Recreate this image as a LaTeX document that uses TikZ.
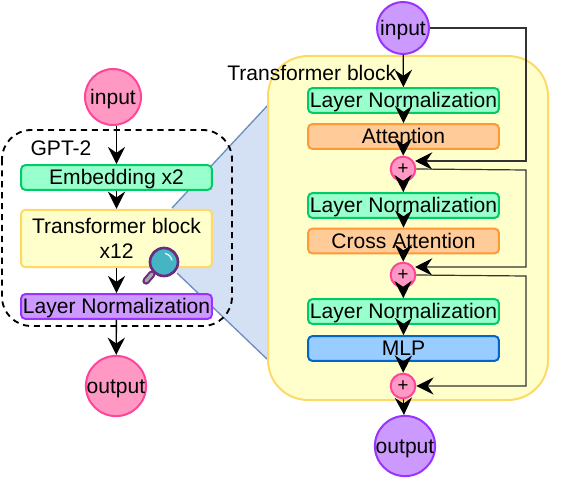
\documentclass[tikz,border=0pt]{standalone}
\usepackage{fontspec}
\setmainfont{Liberation Sans}
\usetikzlibrary{arrows.meta}
\definecolor{pinkF}{HTML}{FF99C4}\definecolor{pinkD}{HTML}{FF4499}
\definecolor{purF}{HTML}{CC99FF}\definecolor{purD}{HTML}{9933FF}
\definecolor{grnF}{HTML}{99FFCC}\definecolor{grnD}{HTML}{00CC66}
\definecolor{yelF}{HTML}{FFFFCC}\definecolor{yelD}{HTML}{FFD966}
\definecolor{orgF}{HTML}{FFCC99}\definecolor{orgD}{HTML}{FF9933}
\definecolor{bluF}{HTML}{99CCFF}\definecolor{bluD}{HTML}{0066CC}
\definecolor{zoomF}{HTML}{D4E1F5}\definecolor{zoomD}{HTML}{6C8EBF}
\definecolor{magD}{HTML}{6B2C80}\definecolor{magF}{HTML}{45B5C4}
\tikzset{
  txt/.style={font=\fontsize{15.8pt}{19pt}\selectfont,inner sep=0pt,text=black},
  oneline/.style={text height=11pt,text depth=0pt},
  circ/.style={circle,txt,oneline,line width=1.5pt,minimum size=#1*0.75pt},
  pinkc/.style={circ=#1,draw=pinkD,fill=pinkF},
  purc/.style={circ=#1,draw=purD,fill=purF},
  bx/.style={txt,rectangle,rounded corners=3pt,line width=1.5pt,minimum width=143pt},
  plusn/.style={circle,draw=pinkD,fill=pinkF,line width=1.5pt,minimum size=18.5pt,inner sep=0pt,font=\fontsize{14pt}{14pt}\selectfont},
  arr/.style={-{Stealth[length=13pt,width=13pt,inset=4.5pt]},line width=1pt,black},
  skip/.style={-{Stealth[length=13pt,width=13pt,inset=4.5pt,color=black]},line width=0.9pt,draw=black!80}
}
\begin{document}
\begin{tikzpicture}[x=0.75pt,y=-0.75pt]
\useasboundingbox (0,0) rectangle (567,481);
% zoom wedge
\fill[zoomF] (172,208) -- (268,105) -- (268,360) -- (177,273) -- cycle;
\draw[zoomD,line width=1pt] (172,208) -- (268,105);
\draw[zoomD,line width=1pt] (177,273) -- (268,360);
% left
\draw[dash pattern=on 4.6pt off 3.6pt,line width=1.4pt,rounded corners=22pt,black] (2,130) rectangle (232,326);
\node[txt,oneline] (gpt) at (61,148) {GPT-2};
\node[pinkc=56] (in1) at (113,97) {input};
\node[bx,oneline,draw=grnD,fill=grnF,minimum height=18.5pt] (emb) at (116.5,177.5) {Embedding x2};
\node[bx,draw=yelD,fill=yelF,minimum height=43pt,align=center] (tb) at (116.5,238.5) {Transformer block\\x12};
\node[bx,oneline,draw=purD,fill=purF,minimum height=18.5pt] (ln) at (116.5,306.5) {Layer Normalization};
\node[pinkc=58] (out1) at (116,386) {output};
\draw[arr] (in1.south -| emb.north) -- (emb.north);
\draw[arr] (emb) -- (tb);
\draw[arr] (tb) -- (ln);
\draw[arr] (ln) -- (out1);
% magnifier
\draw[line cap=round,line width=5.5pt,draw=magD] (152,274) -- (146,281);
\draw[line cap=round,line width=2.4pt,draw=gray!70] (152,274) -- (146,281);
\node[circle,draw=magD,fill=magF,line width=2pt,minimum size=21pt,inner sep=0pt] (mag) at (164,262) {};
\draw[white!85!cyan,line width=1.1pt,line cap=round] (165.5,253.5) arc (-80:-10:8);
% right
\node[rectangle,draw=yelD,fill=yelF,line width=1.5pt,rounded corners=30pt,minimum width=210pt,minimum height=258pt,inner sep=0pt] (big) at (408,228) {};
\node[txt,oneline,anchor=west] (tblabel) at (227,73) {Transformer block};
\node[purc=52] (in2) at (403,28) {input};
\node[bx,oneline,draw=grnD,fill=grnF,minimum height=18.5pt] (l1) at (403.5,100.5) {Layer Normalization};
\node[bx,oneline,draw=orgD,fill=orgF,minimum height=18.5pt] (a1) at (403.5,136.5) {Attention};
\node[plusn] (p1) at (403,169) {+};
\node[bx,oneline,draw=grnD,fill=grnF,minimum height=18.5pt] (l2) at (403.5,205.5) {Layer Normalization};
\node[bx,oneline,draw=orgD,fill=orgF,minimum height=18.5pt] (a2) at (403.5,241) {Cross Attention};
\node[plusn] (p2) at (403,275) {+};
\node[bx,oneline,draw=grnD,fill=grnF,minimum height=18.5pt] (l3) at (403.5,311.5) {Layer Normalization};
\node[bx,oneline,draw=bluD,fill=bluF,minimum height=18.5pt] (m) at (403.5,348.5) {MLP};
\node[plusn] (p3) at (403,386) {+};
\node[purc=60] (out2) at (405,446) {output};
\coordinate (t1) at (415,161);
\coordinate (t2) at (415,267);
\coordinate (c1) at (526,28);
\coordinate (c2) at (526,170);
\coordinate (c3) at (526,276);
\draw[arr] (in2) -- (l1);
\draw[arr] (l1) -- (a1);
\draw[arr] (a1) -- (p1);
\draw[arr] (p1) -- (l2);
\draw[arr] (l2) -- (a2);
\draw[arr] (a2) -- (p2);
\draw[arr] (p2) -- (l3);
\draw[arr] (l3) -- (m);
\draw[arr] (m) -- (p3);
\draw[arr] (p3) -- (out2);
\draw[skip] (in2.east) -- (c1) |- (t1);
\draw[skip] (p1.east) -- (c2) |- (t2);
\draw[skip] (p2.east) -- (c3) |- (p3.east);
\end{tikzpicture}
\end{document}
